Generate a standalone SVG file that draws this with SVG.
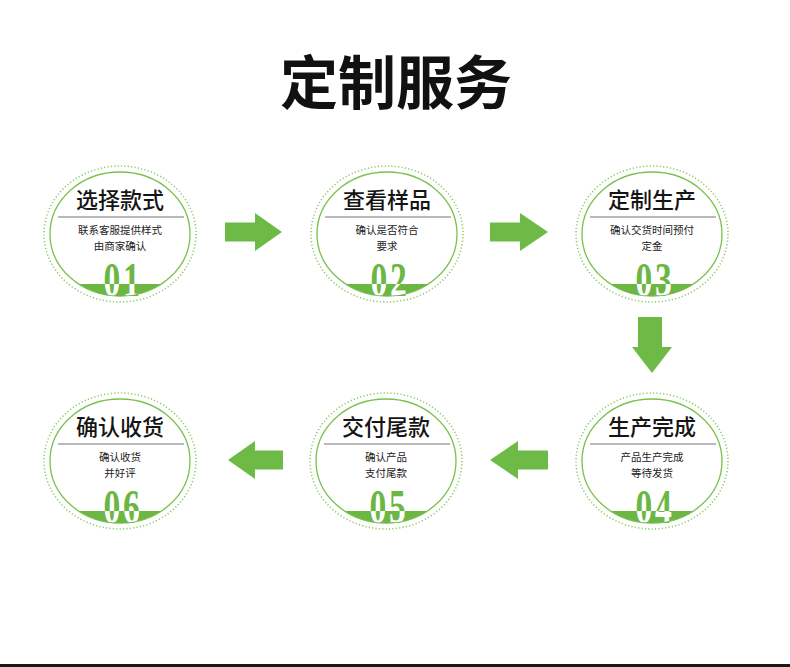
<svg xmlns="http://www.w3.org/2000/svg" width="790" height="667" viewBox="0 0 790 667">
<style>
.ring{fill:none;stroke:#8bcd63;stroke-width:1.6;stroke-dasharray:1.2 2.2}
.inner{fill:#fff;stroke:#79c14e;stroke-width:1.3}
.band{fill:#6cb744}
.ttl{font-family:"Noto Sans CJK SC","Noto Sans",sans-serif;font-size:22px;font-weight:500;fill:#151515;text-anchor:middle}
.sub{font-family:"Noto Sans CJK SC","Noto Sans",sans-serif;font-size:10.5px;fill:#222;text-anchor:middle}
.rule{stroke:#777;stroke-width:1.2}
.num{font-family:"Liberation Serif","Times New Roman",serif;font-size:48px;font-weight:700;letter-spacing:4px;text-anchor:middle}
.arrow{fill:#6dbb46}
.head{font-family:"Noto Sans CJK SC","Noto Sans",sans-serif;font-size:58px;font-weight:700;fill:#111;text-anchor:middle}
</style>
<defs>
<clipPath id="bandclip" clipPathUnits="userSpaceOnUse"><path d="M-41.4,50 H41.4 A70 62 0 0 1 -41.4,50 Z"/></clipPath>
</defs>
<rect width="790" height="667" fill="#fff"/>
<text class="head" x="396" y="104">定制服务</text>
<rect x="0" y="664" width="790" height="3" fill="#1b1a10"/>

<g id="node1" transform="translate(120,234)">
<ellipse class="ring" rx="76" ry="68"/>
<ellipse class="inner" rx="70" ry="62"/>
<path class="band" d="M-41.4,50 H41.4 A70 62 0 0 1 -41.4,50 Z"/>
<text class="ttl" x="0" y="-26">选择款式</text>
<line class="rule" x1="-62" y1="-17" x2="64" y2="-17"/>
<text class="sub" x="0" y="0">联系客服提供样式</text>
<text class="sub" x="0" y="16">由商家确认</text>
<text class="num" transform="translate(3,62) scale(0.7,1)" fill="#6cb744">01</text>
<g clip-path="url(#bandclip)"><text class="num" transform="translate(3,62) scale(0.7,1)" fill="#fff">01</text></g>
</g>

<g id="node2" transform="translate(387,234)">
<ellipse class="ring" rx="76" ry="68"/>
<ellipse class="inner" rx="70" ry="62"/>
<path class="band" d="M-41.4,50 H41.4 A70 62 0 0 1 -41.4,50 Z"/>
<text class="ttl" x="0" y="-26">查看样品</text>
<line class="rule" x1="-62" y1="-17" x2="64" y2="-17"/>
<text class="sub" x="0" y="0">确认是否符合</text>
<text class="sub" x="0" y="16">要求</text>
<text class="num" transform="translate(3,62) scale(0.7,1)" fill="#6cb744">02</text>
<g clip-path="url(#bandclip)"><text class="num" transform="translate(3,62) scale(0.7,1)" fill="#fff">02</text></g>
</g>

<g id="node3" transform="translate(652,234)">
<ellipse class="ring" rx="76" ry="68"/>
<ellipse class="inner" rx="70" ry="62"/>
<path class="band" d="M-41.4,50 H41.4 A70 62 0 0 1 -41.4,50 Z"/>
<text class="ttl" x="0" y="-26">定制生产</text>
<line class="rule" x1="-62" y1="-17" x2="64" y2="-17"/>
<text class="sub" x="0" y="0">确认交货时间预付</text>
<text class="sub" x="0" y="16">定金</text>
<text class="num" transform="translate(3,62) scale(0.7,1)" fill="#6cb744">03</text>
<g clip-path="url(#bandclip)"><text class="num" transform="translate(3,62) scale(0.7,1)" fill="#fff">03</text></g>
</g>

<g id="node4" transform="translate(652,461)">
<ellipse class="ring" rx="76" ry="68"/>
<ellipse class="inner" rx="70" ry="62"/>
<path class="band" d="M-41.4,50 H41.4 A70 62 0 0 1 -41.4,50 Z"/>
<text class="ttl" x="0" y="-26">生产完成</text>
<line class="rule" x1="-62" y1="-17" x2="64" y2="-17"/>
<text class="sub" x="0" y="0">产品生产完成</text>
<text class="sub" x="0" y="16">等待发货</text>
<text class="num" transform="translate(3,62) scale(0.7,1)" fill="#6cb744">04</text>
<g clip-path="url(#bandclip)"><text class="num" transform="translate(3,62) scale(0.7,1)" fill="#fff">04</text></g>
</g>

<g id="node5" transform="translate(386,461)">
<ellipse class="ring" rx="76" ry="68"/>
<ellipse class="inner" rx="70" ry="62"/>
<path class="band" d="M-41.4,50 H41.4 A70 62 0 0 1 -41.4,50 Z"/>
<text class="ttl" x="0" y="-26">交付尾款</text>
<line class="rule" x1="-62" y1="-17" x2="64" y2="-17"/>
<text class="sub" x="0" y="0">确认产品</text>
<text class="sub" x="0" y="16">支付尾款</text>
<text class="num" transform="translate(3,62) scale(0.7,1)" fill="#6cb744">05</text>
<g clip-path="url(#bandclip)"><text class="num" transform="translate(3,62) scale(0.7,1)" fill="#fff">05</text></g>
</g>

<g id="node6" transform="translate(120,461)">
<ellipse class="ring" rx="76" ry="68"/>
<ellipse class="inner" rx="70" ry="62"/>
<path class="band" d="M-41.4,50 H41.4 A70 62 0 0 1 -41.4,50 Z"/>
<text class="ttl" x="0" y="-26">确认收货</text>
<line class="rule" x1="-62" y1="-17" x2="64" y2="-17"/>
<text class="sub" x="0" y="0">确认收货</text>
<text class="sub" x="0" y="16">并好评</text>
<text class="num" transform="translate(3,62) scale(0.7,1)" fill="#6cb744">06</text>
<g clip-path="url(#bandclip)"><text class="num" transform="translate(3,62) scale(0.7,1)" fill="#fff">06</text></g>
</g>

<g id="connectors">
<polygon class="arrow" points="225,222.5 255,222.5 255,213 282,232 255,251 255,241.5 225,241.5"/>
<polygon class="arrow" points="490,222.5 520,222.5 520,213 548,232 520,251 520,241.5 490,241.5"/>
<polygon class="arrow" points="638,317 662,317 662,347 672,347 652,373 632,347 638,347"/>
<polygon class="arrow" points="548,450.5 518,450.5 518,441 490,460 518,479 518,469.5 548,469.5"/>
<polygon class="arrow" points="283,450.5 255,450.5 255,441 228,460 255,479 255,469.5 283,469.5"/>
</g>
</svg>
